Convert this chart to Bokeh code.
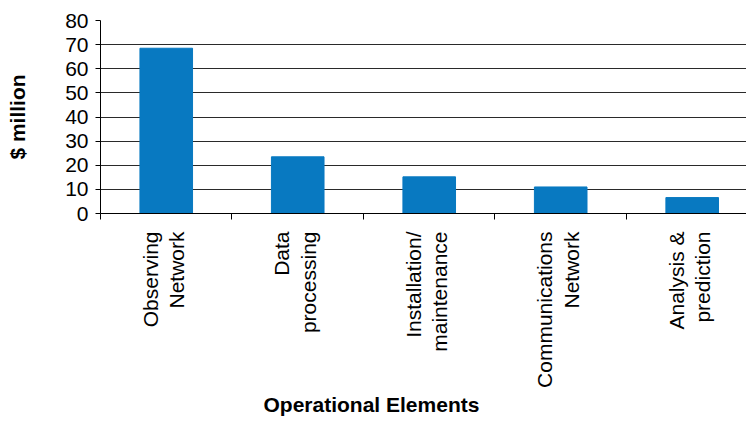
from math import pi

from bokeh.plotting import figure
from bokeh.models import (Range1d, FixedTicker, LinearAxis, Title,
                          ColumnDataSource)
from bokeh.embed import file_html
from bokeh.resources import INLINE

# Operational cost breakdown ($ million)
categories = [
    "Observing\nNetwork",
    "Data\nprocessing",
    "Installation/\nmaintenance",
    "Communications\nNetwork",
    "Analysis &\nprediction",
]
costs = [68.5, 23.5, 15.2, 11.0, 6.6]
y_ticks = [0, 10, 20, 30, 40, 50, 60, 70, 80]

FONT = "Liberation Sans"
BAR_COLOR = "#0879c1"

centers = [i + 0.5 for i in range(len(categories))]
boundaries = list(range(len(categories) + 1))

src = ColumnDataSource(dict(x=centers, cost=costs))

p = figure(width=746, height=421, output_backend="svg", toolbar_location=None,
           x_range=Range1d(0, 4.913), y_range=Range1d(0, 80),
           min_border_left=100, min_border_right=0,
           min_border_top=20, min_border_bottom=208)

p.vbar(x="x", top="cost", width=0.40, source=src, color=BAR_COLOR)

p.outline_line_color = None
p.xgrid.visible = False
p.ygrid.ticker = FixedTicker(ticks=y_ticks)
p.ygrid.grid_line_color = "#2a2a2a"
p.ygrid.grid_line_width = 1

# value axis
p.yaxis.ticker = FixedTicker(ticks=y_ticks)
p.yaxis.axis_line_color = "black"
p.yaxis.major_tick_in = 0
p.yaxis.major_tick_out = 5
p.yaxis.minor_tick_line_color = None
p.yaxis.major_label_standoff = 7
p.yaxis.major_label_text_font = FONT
p.yaxis.major_label_text_font_size = "21px"
p.yaxis.major_label_text_color = "black"
p.yaxis.axis_label = "$ million"
p.yaxis.axis_label_standoff = 33
p.yaxis.axis_label_text_font = FONT
p.yaxis.axis_label_text_font_style = "bold"
p.yaxis.axis_label_text_font_size = "21px"
p.yaxis.axis_label_text_color = "black"

# category axis: tick marks at the category boundaries
p.xaxis.ticker = FixedTicker(ticks=boundaries)
p.xaxis.major_label_overrides = {b: "" for b in boundaries}
p.xaxis.major_label_standoff = 0
p.xaxis.axis_line_color = "black"
p.xaxis.major_tick_in = 0
p.xaxis.major_tick_out = 6
p.xaxis.minor_tick_line_color = None

# category names under each bar, two rotated lines side by side
line_pos, line_text = [], []
for c, name in zip(centers, categories):
    first, second = name.split("\n")
    line_pos += [c - 0.122, c + 0.08]
    line_text += [first, second]

names = LinearAxis(ticker=FixedTicker(ticks=line_pos),
                   major_label_overrides=dict(zip(line_pos, line_text)),
                   major_label_orientation=pi / 2,
                   major_label_standoff=12,
                   major_label_text_font=FONT,
                   major_label_text_font_size="21px",
                   major_label_text_color="black",
                   axis_line_color=None, major_tick_line_color=None,
                   major_tick_in=0, major_tick_out=0,
                   minor_tick_line_color=None)
p.add_layout(names, "below")

p.add_layout(Title(text="Operational Elements", align="left", offset=163,
                   standoff=0, text_font=FONT, text_font_style="bold",
                   text_font_size="21px", text_color="black"), "below")

open("out.html", "w").write(file_html(p, INLINE))
